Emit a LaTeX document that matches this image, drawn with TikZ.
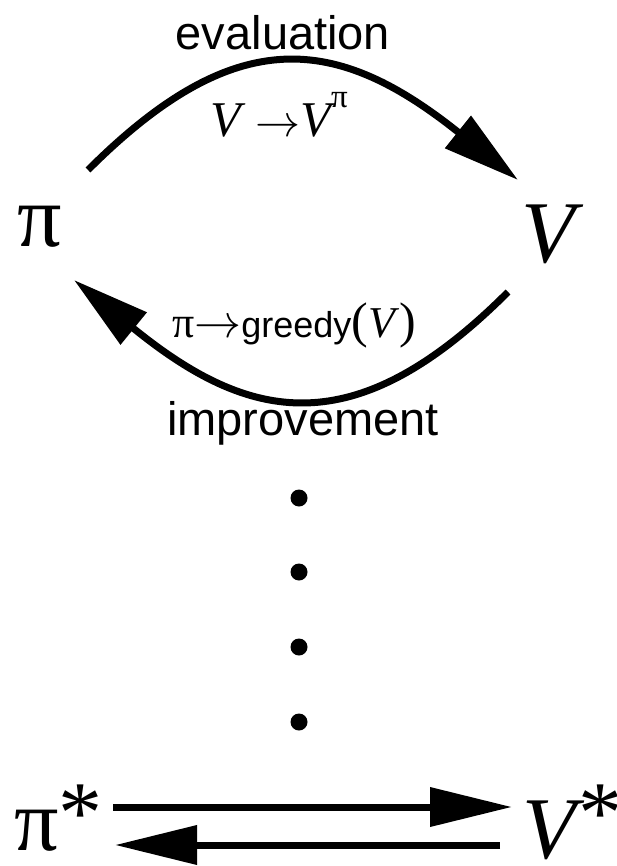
\documentclass[tikz,border=0pt]{standalone}
\usepackage{graphicx}
\usepackage{fontspec}
\setmainfont{Liberation Serif}
\setsansfont{Liberation Sans}
\usetikzlibrary{arrows.meta}
\newcommand{\bigarrow}[1]{\scalebox{#1}{\normalsize$\rightarrow$}}
\begin{document}
\begin{tikzpicture}[x=1pt,y=-1pt,
  lbl/.style={inner sep=0pt, anchor=base},
  bigsym/.style={lbl, font=\fontsize{88}{88}\selectfont},
  word/.style={lbl, font=\sffamily\fontsize{47}{47}\selectfont},
  arcarrow/.style={line width=7pt, -{Triangle[length=77pt,width=40pt]}},
  flatarrow/.style={line width=7pt, -{Triangle[length=82pt,width=38pt]}},
  dotn/.style={circle, fill=black, inner sep=0pt, minimum size=17pt}]
\useasboundingbox (0,0) rectangle (616,866);

% main symbols
\node[bigsym] (pi) at (40,247) {π};
\node[bigsym] (V) at (548,263) {\itshape V};

% words
\node[word] (eval) at (283,50) {evaluation};
\node[word] (impr) at (303,435) {improvement};

% arc labels
\node[lbl, font=\fontsize{50}{50}\selectfont] (evlab) at (279,137)
  {\itshape V\upshape\hspace{0.3em}\bigarrow{4.5}\itshape V\upshape\raisebox{29pt}{\fontsize{33}{33}\selectfont π}};
\node[lbl, anchor=base west] (gr) at (172,337)
  {\fontsize{44}{44}\selectfont π\bigarrow{4.7}{\sffamily\fontsize{36}{36}\selectfont greedy}\fontsize{50}{50}\selectfont(\fontsize{44}{44}\selectfont\itshape V\/\upshape\fontsize{50}{50}\selectfont)};

% arcs
\coordinate (e1) at (88,170);
\coordinate (e2) at (518,180);
\draw[arcarrow] (e1) .. controls (236.6,21.4) and (337.5,35.6) .. (e2);
\coordinate (i1) at (508,292);
\coordinate (i2) at (74,280);
\draw[arcarrow] (i1) .. controls (354.3,445.7) and (249,422.3) .. (i2);

% dots
\foreach \y/\n in {498/1,572/2,647/3,722/4}
  \node[dotn] (d\n) at (299,\y) {};

% bottom
\node[bigsym, anchor=base west] (pistar) at (14,850)
  {\raisebox{0pt}[\height][0pt]{π\raisebox{8pt}{*}}};
\node[bigsym, anchor=base west] (vstar) at (522,858)
  {\raisebox{0pt}[\height][0pt]{\itshape V\upshape\hspace{3pt}\raisebox{16pt}{*}}};
\coordinate (a1) at (113,807);
\coordinate (a2) at (512,807);
\coordinate (b1) at (500,845);
\coordinate (b2) at (115,845);
\draw[flatarrow] (a1) -- (a2);
\draw[flatarrow] (b1) -- (b2);
\end{tikzpicture}
\end{document}
